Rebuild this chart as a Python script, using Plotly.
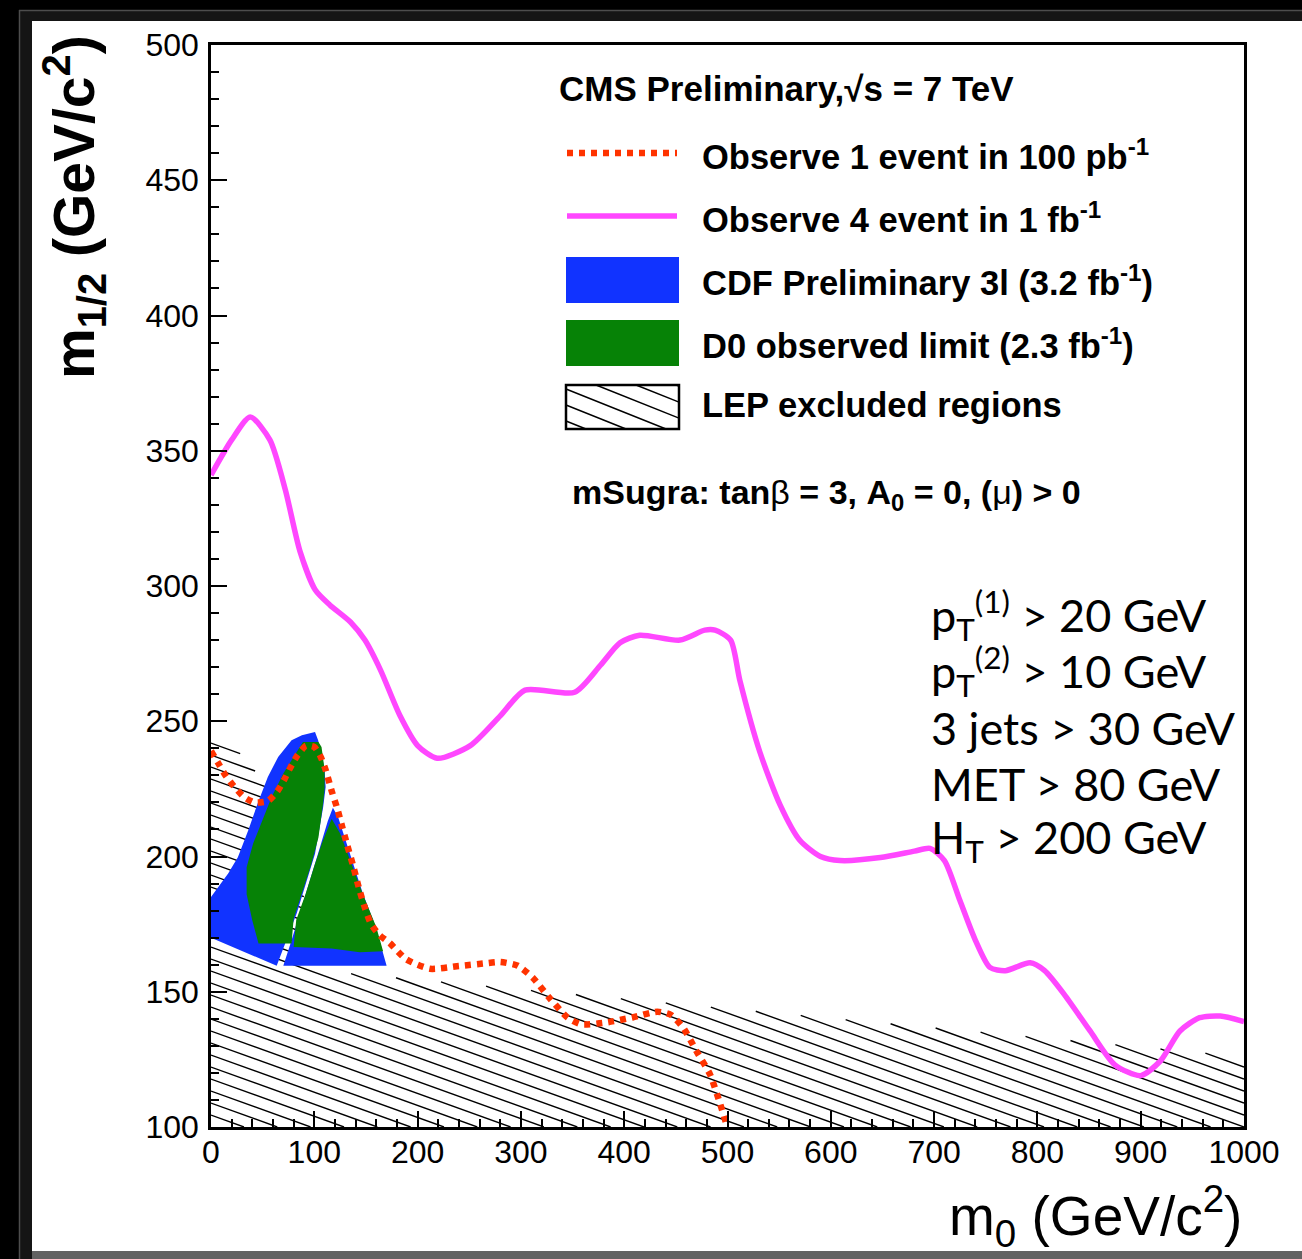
import numpy as np
import plotly.graph_objects as go

# ---------------------------------------------------------------- data
# "Observe 4 events in 1 fb^-1" reach contour (m0, m1/2) in GeV/c^2
m0_4ev = [0, 20, 38, 57, 72, 86, 101, 115, 135, 149, 164, 183, 200, 219, 251,
          280, 304, 352, 377, 396, 415, 454, 478, 488, 503, 512, 531, 551, 570,
          590, 609, 648, 681, 696, 710, 725, 740, 754, 769, 793, 807, 827, 851,
          875, 900, 919, 938, 957, 977, 1000]
m12_4ev = [341, 354, 362.5, 354, 335.5, 313, 298.5, 293, 286.7, 280, 269, 252,
           241, 236.3, 241, 252, 261.5, 260.7, 270.7, 279, 281.8, 280, 283.7,
           283.7, 280, 265, 239, 219, 206, 200, 198.5, 199.6, 202, 203, 198.5,
           183.7, 169, 159, 157.8, 160.7, 157.8, 148.5, 135.5, 123, 119, 124.4,
           135.5, 140.4, 141, 139]

# "Observe 1 event in 100 pb^-1" reach contour
m0_1ev = [0, 7, 14, 22, 32, 42, 55, 64, 71, 77, 83, 92, 100, 106, 111, 117,
          122, 127, 132, 138, 143, 149, 155, 163, 173, 189, 212, 240, 265, 280,
          297, 312, 327, 345, 358, 382, 408, 432, 445, 457, 470, 483, 492, 499]
m12_1ev = [239, 234.5, 230, 226, 222, 220, 220.5, 224, 228.5, 233, 237, 241,
           240.5, 237, 232, 224, 218, 211, 204, 196, 188.6, 181, 175, 171, 168,
           162, 158.5, 159.5, 160.5, 161, 159.6, 155, 148, 140.5, 138, 138.6,
           140.5, 142.6, 141.5, 136.8, 128, 119.5, 109.6, 101]

# CDF preliminary trilepton exclusion (two lobes)
cdf_a_m0 = [0, 0, 16.6, 26, 36, 45.5, 55, 65, 78, 88, 100.7, 103.7, 107, 110,
            111, 108.6, 100.7, 92.6, 83, 73, 63.6]
cdf_a_m12 = [170, 185, 193.7, 199.7, 209.6, 220, 229.4, 236.8, 243, 244.8, 246,
             243, 238, 232, 225.7, 218.3, 201, 191, 179, 169, 159.6]
cdf_b_m0 = [118, 113, 103.6, 95.8, 86, 78, 70, 170, 165, 157, 147, 137.6, 128, 123]
cdf_b_m12 = [218, 213, 201, 191, 179, 169, 159.6, 159.6, 166.4, 176.3, 186.3,
             197.4, 208.5, 214.6]

# D0 observed exclusion (two lobes)
d0_a_m0 = [46, 40, 34.5, 34.5, 40.8, 49, 58.7, 70, 83, 89, 104, 107, 110, 110,
           108.5, 104, 97, 88, 80, 78]
d0_a_m12 = [167.8, 176.3, 186, 196, 204.8, 213, 222, 230.7, 239, 242.3, 242.3,
            240.5, 232, 225, 219.6, 207, 197, 186, 177, 167.8]
d0_b_m0 = [116.8, 107.5, 100, 91.5, 82.5, 80, 116.8, 144, 166.6, 160, 147,
           134.6, 125]
d0_b_m12 = [214, 205, 196.5, 186, 176.5, 166.5, 166, 164.6, 165, 173.9, 186,
            198.5, 208.5]

# LEP excluded region: upper boundary (region extends down to the axis)
lep_m0 = [0, 31, 43, 55, 70, 85, 95, 100, 1000]
lep_m12 = [243.5, 237.5, 231.5, 225, 214, 195, 175, 158, 126]

x_ticks = list(range(0, 1001, 100))
y_ticks = list(range(100, 501, 50))

cuts = [
    "p<sub>T</sub><sup>(1)</sup> > 20 GeV",
    "p<sub>T</sub><sup>(2)</sup> > 10 GeV",
    "3 jets > 30 GeV",
    "MET > 80 GeV",
    "H<sub>T</sub> > 200 GeV",
]

# ---------------------------------------------------------------- style
W, H = 1302, 1259
L, R, T, B = 211, 1244, 45, 1127          # plot area in pixels
XR, YR = (0, 1000), (100, 500)

PINK = "#ff47ff"
RED = "#ff3300"
BLUE = "#1133ff"
GREEN = "#068206"
SANS = "Liberation Sans, Arial, sans-serif"


def px(x):
    return (x - L) / (R - L)


def py(y):
    return (B - y) / (B - T)


fig = go.Figure()

# LEP hatching: parallel lines clipped to the excluded region
k = -0.36 * ((YR[1] - YR[0]) / (B - T)) / ((XR[1] - XR[0]) / (R - L))
spacing = 12 * (YR[1] - YR[0]) / (B - T)
xs = np.linspace(0, 1000, 8001)
upper = np.interp(xs, lep_m0, lep_m12)
c0 = 100 - k * 1000
hx, hy = [], []
for n in range(-40, 12):
    c = c0 + n * spacing
    yl = c + k * xs
    inside = (yl <= upper) & (yl >= 100)
    if not inside.any():
        continue
    idx = np.flatnonzero(inside)
    breaks = np.flatnonzero(np.diff(idx) > 1)
    starts = np.r_[idx[0], idx[breaks + 1]]
    ends = np.r_[idx[breaks], idx[-1]]
    for a, b in zip(starts, ends):
        if b - a < 2:
            continue
        hx += [xs[a], xs[b], None]
        hy += [yl[a], yl[b], None]

fig.add_trace(go.Scatter(x=hx, y=hy, mode="lines",
                         line=dict(color="black", width=1.4),
                         hoverinfo="skip", showlegend=False))

for xx, yy, col in [(cdf_a_m0, cdf_a_m12, BLUE), (cdf_b_m0, cdf_b_m12, BLUE),
                    (d0_a_m0, d0_a_m12, GREEN), (d0_b_m0, d0_b_m12, GREEN)]:
    fig.add_trace(go.Scatter(x=xx, y=yy, mode="lines", fill="toself",
                             fillcolor=col, line=dict(width=0, color=col),
                             hoverinfo="skip", showlegend=False))

fig.add_trace(go.Scatter(x=m0_1ev, y=m12_1ev, mode="lines",
                         line=dict(color=RED, width=6.5, dash="6px,6px",
                                   shape="spline", smoothing=0.6),
                         showlegend=False))
fig.add_trace(go.Scatter(x=m0_4ev, y=m12_4ev, mode="lines",
                         line=dict(color=PINK, width=5.5, shape="spline",
                                   smoothing=0.7),
                         showlegend=False))

# ---------------------------------------------------------------- frame
shapes = [
    dict(type="rect", xref="paper", yref="paper", layer="below",
         x0=px(19), x1=px(W), y0=py(H), y1=py(10),
         fillcolor="#151515", line=dict(width=0)),
    dict(type="line", xref="paper", yref="paper", layer="below",
         x0=px(19), x1=px(W), y0=py(10.5), y1=py(10.5),
         line=dict(color="#4d4d4d", width=1.5)),
    dict(type="line", xref="paper", yref="paper", layer="below",
         x0=px(19.5), x1=px(19.5), y0=py(10), y1=py(H),
         line=dict(color="#4d4d4d", width=1.5)),
    dict(type="rect", xref="paper", yref="paper", layer="below",
         x0=px(32), x1=px(W), y0=py(H), y1=py(1251),
         fillcolor="#626262", line=dict(width=0)),
    dict(type="rect", xref="paper", yref="paper", layer="below",
         x0=px(32), x1=px(W), y0=py(1251), y1=py(21),
         fillcolor="white", line=dict(width=0)),
]

# ---------------------------------------------------------------- legend
lx0, lx1 = 566, 679
shapes += [
    dict(type="line", xref="paper", yref="paper",
         x0=px(lx0 + 1), x1=px(lx1 - 2), y0=py(153), y1=py(153),
         line=dict(color=RED, width=6.5, dash="6px,6px")),
    dict(type="line", xref="paper", yref="paper",
         x0=px(lx0 + 1), x1=px(lx1 - 2), y0=py(216), y1=py(216),
         line=dict(color=PINK, width=5.5)),
    dict(type="rect", xref="paper", yref="paper",
         x0=px(lx0), x1=px(lx1), y0=py(303), y1=py(257),
         fillcolor=BLUE, line=dict(width=0)),
    dict(type="rect", xref="paper", yref="paper",
         x0=px(lx0), x1=px(lx1), y0=py(366), y1=py(320),
         fillcolor=GREEN, line=dict(width=0)),
    dict(type="rect", xref="paper", yref="paper",
         x0=px(lx0), x1=px(lx1), y0=py(429), y1=py(385),
         fillcolor="rgba(0,0,0,0)", line=dict(color="black", width=2.5)),
]
# hatch inside the LEP legend box
bx = np.linspace(lx0, lx1, 2000)
for off in np.arange(-60, 60, 16):
    yy = 385 + 0.40 * (bx - lx0) + off
    ok = (yy >= 385) & (yy <= 429)
    if ok.sum() < 3:
        continue
    a, b = np.flatnonzero(ok)[[0, -1]]
    shapes.append(dict(type="line", xref="paper", yref="paper",
                       x0=px(bx[a]), x1=px(bx[b]), y0=py(yy[a]), y1=py(yy[b]),
                       line=dict(color="black", width=1.4)))

annotations = []


def label(text, x, y, size, xanchor="left", family=SANS, **kw):
    annotations.append(dict(text=text, x=px(x), y=py(y), xref="paper",
                            yref="paper", xanchor=xanchor, yanchor="middle",
                            showarrow=False, font=dict(family=family,
                                                       size=size,
                                                       color="black"), **kw))


label("<b>CMS Preliminary,√s = 7 TeV</b>", 557, 89, 35)
legend_rows = [
    ("Observe 1 event in 100 pb<sup>-1</sup>", 154),
    ("Observe 4 event in 1 fb<sup>-1</sup>", 217),
    ("CDF Preliminary 3l (3.2 fb<sup>-1</sup>)", 280),
    ("D0 observed limit (2.3 fb<sup>-1</sup>)", 343),
    ("LEP excluded regions", 405),
]
for txt, yc in legend_rows:
    label("<b>" + txt + "</b>", 700, yc, 34.5)

label("<b>mSugra: tan</b>β<b> = 3, A<sub>0</sub> = 0, (</b>μ<b>) > 0</b>",
      570, 494, 34)

for i, txt in enumerate(cuts):
    label(txt, 929, 615 + 56.3 * i, 45, family="Lato, sans-serif")

# axis titles
annotations.append(dict(text="<b>m<sub>1/2</sub> (GeV/c<sup>2</sup>)</b>",
                        x=px(74), y=py(33), xref="paper", yref="paper",
                        xanchor="center", yanchor="top", textangle=-90,
                        showarrow=False,
                        font=dict(family=SANS, size=57, color="black")))
annotations.append(dict(text="m<sub>0</sub> (GeV/c<sup>2</sup>)",
                        x=px(1244), y=py(1216), xref="paper", yref="paper",
                        xanchor="right", yanchor="middle", showarrow=False,
                        font=dict(family=SANS, size=55, color="black")))

axis_common = dict(showgrid=False, zeroline=False, showline=True,
                   linecolor="black", linewidth=2.5, mirror=True,
                   ticks="inside", tickcolor="black", tickwidth=2,
                   ticklen=16, tickfont=dict(family=SANS, size=32,
                                             color="black"))

fig.update_layout(
    width=W, height=H,
    margin=dict(l=L, r=W - R, t=T, b=H - B, pad=0),
    paper_bgcolor="black", plot_bgcolor="white",
    showlegend=False,
    shapes=shapes, annotations=annotations,
    xaxis=dict(range=list(XR), tickvals=x_ticks, ticklabelstandoff=-5,
               minor=dict(dtick=20, ticks="inside", ticklen=8, tickwidth=2,
                          tickcolor="black"), **axis_common),
    yaxis=dict(range=list(YR), tickvals=y_ticks, ticklabelstandoff=3,
               minor=dict(dtick=10, ticks="inside", ticklen=8, tickwidth=2,
                          tickcolor="black"), **axis_common),
)

fig.write_html("out.html")
